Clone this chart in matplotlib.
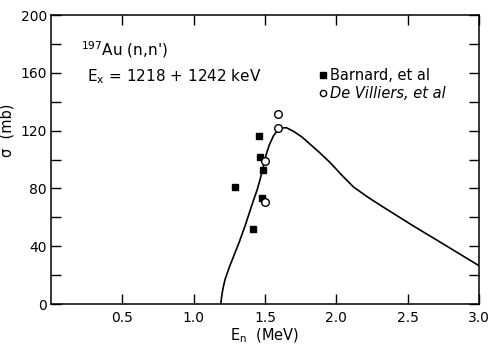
import numpy as np
import matplotlib
matplotlib.use('Agg')
import matplotlib.pyplot as plt

# Barnard et al (filled squares)
barnard_e = [1.29, 1.413, 1.46, 1.465, 1.477, 1.486]
barnard_s = [80.8, 51.8, 116.6, 101.7, 73.2, 92.7]
# De Villiers et al (open circles)
devil_e = [1.497, 1.502, 1.589, 1.593]
devil_s = [99.0, 70.6, 121.7, 131.7]
# calculated curve
curve_e = [1.19, 1.196, 1.205, 1.22, 1.25, 1.28, 1.32, 1.36, 1.39, 1.42, 1.445, 1.465,
           1.49, 1.51, 1.53, 1.56, 1.59, 1.62, 1.65, 1.70, 1.76, 1.815, 1.88,
           1.955, 2.04, 2.12, 2.22, 2.33, 2.54, 2.75, 3.0]
curve_s = [0, 5, 10.5, 17, 25.5, 33, 43, 54, 63, 72, 79, 86,
           96, 104, 110, 116.5, 120.3, 121.8, 122, 119.5, 115.5, 110.7, 105,
           98, 89, 81, 74, 67, 54, 41.5, 26.5]

xticks = [0.5, 1.0, 1.5, 2.0, 2.5, 3.0]
xlabels = ['0.5', '1.0', '1.5', '2.0', '2.5', '3.0']
yticks = [0, 40, 80, 120, 160, 200]

fig = plt.figure(figsize=(4.91, 3.47), dpi=100)
ax = fig.add_axes([51/491, 1-304/347, 428/491, 289/347])

ax.plot(curve_e, curve_s, '-', color='black', lw=1.2)
ax.plot(barnard_e, barnard_s, 's', color='black', ms=4.5)
ax.plot(devil_e, devil_s, 'o', mfc='white', mec='black', mew=1, ms=5.5)

ax.set_xlim(0, 3.0)
ax.set_ylim(0, 200)
ax.set_xticks(xticks)
ax.set_xticklabels(xlabels)
ax.set_yticks(yticks)
ax.set_yticks(np.arange(20, 200, 40), minor=True)
ax.tick_params(which='both', direction='in', length=7, width=1,
               top=True, right=True, labelsize=10, pad=3)
ax.tick_params(axis='x', pad=5)
ax.tick_params(axis='x', which='minor', bottom=False, top=False)
for s in ax.spines.values():
    s.set_linewidth(1.1)

ax.set_xlabel('E$_\\mathregular{n}$  (MeV)', fontsize=10.5, labelpad=1)
ax.set_ylabel('σ  (mb)', fontsize=10.5)
ax.yaxis.set_label_coords(-0.085, 0.6)

ax.text(0.07, 0.86, '$^{\\mathregular{197}}$Au (n,n\')', transform=ax.transAxes,
        fontsize=11)
ax.text(0.085, 0.77, 'E$_\\mathregular{x}$ = 1218 + 1242 keV', transform=ax.transAxes,
        fontsize=11)

ax.plot([0.635], [0.792], 's', color='black', ms=4, transform=ax.transAxes)
ax.text(0.652, 0.792, 'Barnard, et al', transform=ax.transAxes,
        fontsize=10.5, va='center')
ax.plot([0.635], [0.73], 'o', mfc='white', mec='black', ms=4.5, transform=ax.transAxes)
ax.text(0.652, 0.73, 'De Villiers, et al', transform=ax.transAxes,
        fontsize=10.5, va='center', style='italic')

fig.savefig('out.png', dpi=100)
